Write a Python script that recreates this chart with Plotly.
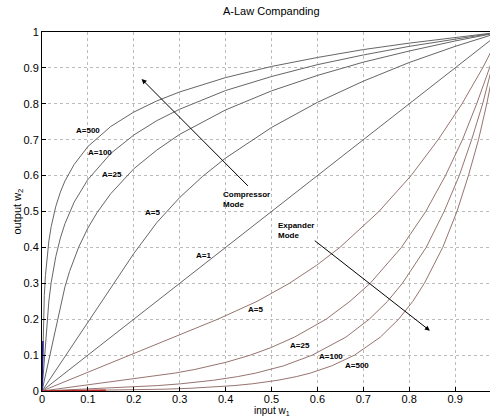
import plotly.graph_objects as go

# ---- data (compressor curves, input -> output) ----
x_a500 = [0, 0.002, 0.003, 0.005, 0.0075, 0.01, 0.015, 0.02, 0.03, 0.04, 0.05, 0.07, 0.1, 0.15, 0.2, 0.25, 0.3, 0.4, 0.5, 0.6, 0.7, 0.8, 0.9, 1.0]
y_a500 = [0, 0.139, 0.195, 0.266, 0.322, 0.362, 0.418, 0.458, 0.514, 0.554, 0.585, 0.631, 0.681, 0.737, 0.777, 0.808, 0.833, 0.873, 0.904, 0.929, 0.951, 0.969, 0.985, 1.0]

x_a100 = [0, 0.01, 0.015, 0.02, 0.03, 0.04, 0.05, 0.07, 0.1, 0.15, 0.2, 0.25, 0.3, 0.4, 0.5, 0.6, 0.7, 0.8, 0.9, 1.0]
y_a100 = [0, 0.178, 0.251, 0.302, 0.374, 0.426, 0.466, 0.526, 0.589, 0.662, 0.713, 0.753, 0.785, 0.837, 0.876, 0.909, 0.936, 0.960, 0.981, 1.0]

x_a25 = [0, 0.04, 0.05, 0.06, 0.07, 0.08, 0.1, 0.12, 0.15, 0.2, 0.25, 0.3, 0.4, 0.5, 0.6, 0.7, 0.8, 0.9, 1.0]
y_a25 = [0, 0.237, 0.290, 0.333, 0.370, 0.401, 0.454, 0.497, 0.550, 0.619, 0.671, 0.715, 0.783, 0.836, 0.879, 0.916, 0.947, 0.975, 1.0]

x_a5 = [0, 0.2, 0.25, 0.3, 0.35, 0.4, 0.5, 0.6, 0.7, 0.8, 0.9, 1.0]
y_a5 = [0, 0.383, 0.469, 0.539, 0.598, 0.649, 0.734, 0.804, 0.863, 0.915, 0.960, 1.0]

x_a1 = [0, 1.0]
y_a1 = [0, 1.0]

compressor = [("A=500", x_a500, y_a500), ("A=100", x_a100, y_a100),
              ("A=25", x_a25, y_a25), ("A=5", x_a5, y_a5), ("A=1", x_a1, y_a1)]
# expander curves are the inverse (mirror) of the compressor curves
expander = [("A=500", y_a500, x_a500), ("A=100", y_a100, x_a100),
            ("A=25", y_a25, x_a25), ("A=5", y_a5, x_a5)]

x_ticks = [0, 0.1, 0.2, 0.3, 0.4, 0.5, 0.6, 0.7, 0.8, 0.9]
x_ticktext = ["0", "0.1", "0.2", "0.3", "0.4", "0.5", "0.6", "0.7", "0.8", "0.9"]
y_ticks = [0, 0.1, 0.2, 0.3, 0.4, 0.5, 0.6, 0.7, 0.8, 0.9, 1.0]
y_ticktext = ["0", "0.1", "0.2", "0.3", "0.4", "0.5", "0.6", "0.7", "0.8", "0.9", "1"]

# curve labels (text, x, y)
comp_labels = [("A=500", 0.100, 0.727), ("A=100", 0.127, 0.664), ("A=25", 0.153, 0.603),
               ("A=5", 0.240, 0.497), ("A=1", 0.352, 0.378)]
exp_labels = [("A=5", 0.466, 0.228), ("A=25", 0.562, 0.128),
              ("A=100", 0.629, 0.097), ("A=500", 0.686, 0.070)]

FONT = "Liberation Sans, Arial, sans-serif"
COMP_COLOR = "#666666"
EXP_COLOR = "#967470"

fig = go.Figure()
for name, xs, ys in compressor:
    fig.add_trace(go.Scatter(x=xs, y=ys, mode="lines", name="comp " + name,
                             line=dict(color=COMP_COLOR, width=1)))
for name, xs, ys in expander:
    fig.add_trace(go.Scatter(x=xs, y=ys, mode="lines", name="exp " + name,
                             line=dict(color=EXP_COLOR, width=1)))
# linear segments near the origin (coloured in the reference)
fig.add_trace(go.Scatter(x=x_a500[:2], y=y_a500[:2], mode="lines",
                         line=dict(color="#1a1a8c", width=1.5)))
fig.add_trace(go.Scatter(x=y_a500[:2], y=x_a500[:2], mode="lines",
                         line=dict(color="#c0262a", width=1.5)))

for txt, lx, ly in comp_labels + exp_labels:
    fig.add_annotation(x=lx, y=ly, text="<b>" + txt + "</b>", showarrow=False,
                       font=dict(family=FONT, size=8, color="black"))

# arrows
fig.add_annotation(x=0.217, y=0.869, ax=0.452, ay=0.567, xref="x", yref="y",
                   axref="x", ayref="y", text="", showarrow=True,
                   arrowhead=2, arrowsize=1, arrowwidth=1, arrowcolor="black")
fig.add_annotation(x=0.845, y=0.168, ax=0.591, ay=0.422, xref="x", yref="y",
                   axref="x", ayref="y", text="", showarrow=True,
                   arrowhead=2, arrowsize=1, arrowwidth=1, arrowcolor="black")
fig.add_annotation(x=0.390, y=0.565, text="<b>Compressor<br>Mode</b>", showarrow=False,
                   xanchor="left", yanchor="top", align="left",
                   font=dict(family=FONT, size=8, color="black"))
fig.add_annotation(x=0.510, y=0.478, text="<b>Expander<br>Mode</b>", showarrow=False,
                   xanchor="left", yanchor="top", align="left",
                   font=dict(family=FONT, size=8, color="black"))

# title and axis labels
fig.add_annotation(x=0.5, y=1, xref="x", yref="paper", yanchor="bottom", yshift=13,
                   text="A-Law Companding", showarrow=False,
                   font=dict(family=FONT, size=11, color="black"))
fig.add_annotation(x=0.5, y=0, xref="x", yref="paper", yanchor="top", yshift=-12,
                   text="input w<sub>1</sub>", showarrow=False,
                   font=dict(family=FONT, size=10, color="black"))
fig.add_annotation(x=0, y=0.5, xref="paper", yref="paper", xshift=-34,
                   text="output w<sub>2</sub>", showarrow=False, textangle=-90,
                   font=dict(family=FONT, size=11, color="black"))

fig.update_layout(
    width=490, height=417,
    margin=dict(l=42, r=0, t=32, b=26),
    paper_bgcolor="white", plot_bgcolor="white",
    showlegend=False,
    font=dict(family=FONT, size=11, color="black"),
)
fig.update_xaxes(range=[0, 0.976], tickvals=x_ticks, ticktext=x_ticktext,
                 ticks="inside", ticklen=4, tickcolor="black", ticklabelstandoff=-2,
                 showline=True, linecolor="black", linewidth=1, mirror=True,
                 showgrid=True, gridcolor="#bcbcbc", griddash="dot", gridwidth=1,
                 zeroline=False, tickfont=dict(family=FONT, size=11, color="black"))
fig.update_yaxes(range=[0, 1], tickvals=y_ticks, ticktext=y_ticktext,
                 ticks="inside", ticklen=4, tickcolor="black",
                 showline=True, linecolor="black", linewidth=1, mirror=False,
                 showgrid=True, gridcolor="#bcbcbc", griddash="dot", gridwidth=1,
                 zeroline=False, tickfont=dict(family=FONT, size=11, color="black"))

fig.write_html("out.html")
